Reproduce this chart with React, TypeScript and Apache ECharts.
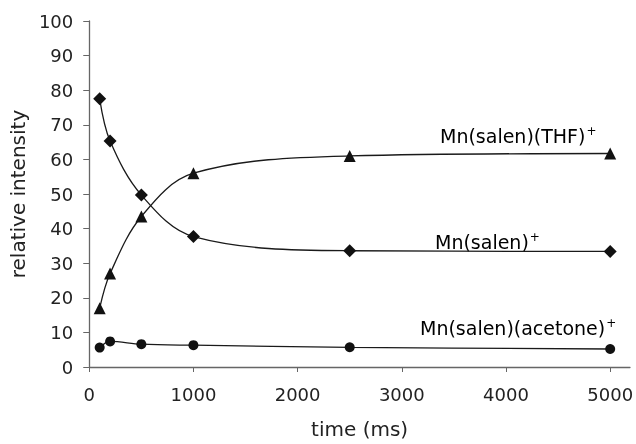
import React, { useEffect, useRef } from "react";
import * as echarts from "echarts";

const times = [100, 200, 500, 1000, 2500, 5000];
const salen = [77.5, 65.3, 49.7, 37.7, 33.6, 33.4];
const thf = [17.0, 27.0, 43.5, 56.0, 61.0, 61.7];
const acetone = [5.6, 7.4, 6.6, 6.3, 5.7, 5.2];
const xTicks = [0, 1000, 2000, 3000, 4000, 5000];
const seriesLabels = ["Mn(salen)(THF)", "Mn(salen)", "Mn(salen)(acetone)"];

const FONT = "DejaVu Sans";
const FS = 18;
const FS_LABEL = 19;
const FS_TITLE = 20;

export default function App() {
  const ref = useRef<HTMLDivElement>(null);
  useEffect(() => {
    if (!ref.current) return;
    const chart = echarts.init(ref.current, undefined, { renderer: "svg" });
    const mk = (vals: number[]) => times.map((t, i) => [t, vals[i]]);
    const lineStyle = { color: "#1a1a1a", width: 1.3 };
    const itemStyle = { color: "#111" };
    const rich = {
      m: { fontFamily: FONT, fontSize: FS_LABEL, color: "#222" },
      s: { fontFamily: FONT, fontSize: 12, color: "#222", verticalAlign: "top", padding: [0, 0, 10, 1] },
    };
    const lab = (txt: string, x: number, y: number) => ({
      type: "text",
      x,
      y,
      style: {
        text: `{m|${txt}}{s|+}`,
        rich,
        align: "left",
        verticalAlign: "bottom",
      },
    });
    chart.setOption({
      animation: false,
      grid: { left: 87, right: 4, top: 21, bottom: 74 },
      xAxis: {
        type: "value",
        min: 0,
        max: 5190,
        name: "time (ms)",
        nameLocation: "middle",
        nameGap: 52,
        nameTextStyle: { fontFamily: FONT, fontSize: FS_TITLE, color: "#222" },
        splitLine: { show: false },
        axisLine: { lineStyle: { color: "#666", width: 1.3 } },
        axisTick: { show: true, customValues: xTicks, length: 5, lineStyle: { color: "#666" } },
        axisLabel: {
          customValues: xTicks,
          margin: 18,
          fontFamily: FONT,
          fontSize: FS,
          color: "#222",
          formatter: (v: number) => String(v),
        },
      },
      yAxis: {
        type: "value",
        min: 0,
        max: 100,
        interval: 10,
        name: "relative intensity",
        nameLocation: "middle",
        nameGap: 58,
        nameTextStyle: { fontFamily: FONT, fontSize: FS_TITLE, color: "#222" },
        splitLine: { show: false },
        axisLine: { show: true, lineStyle: { color: "#666", width: 1.3 } },
        axisTick: { show: true, length: 6, lineStyle: { color: "#666" } },
        axisLabel: { margin: 16, fontFamily: FONT, fontSize: FS, color: "#222" },
      },
      series: [
        {
          type: "line",
          name: seriesLabels[1],
          data: mk(salen),
          smooth: 0.35,
          symbol: "diamond",
          symbolSize: 13,
          lineStyle,
          itemStyle,
        },
        {
          type: "line",
          name: seriesLabels[0],
          data: mk(thf),
          smooth: 0.35,
          symbol: "triangle",
          symbolSize: 12,
          lineStyle,
          itemStyle,
        },
        {
          type: "line",
          name: seriesLabels[2],
          data: mk(acetone),
          smooth: 0.35,
          symbol: "circle",
          symbolSize: 10,
          lineStyle,
          itemStyle,
        },
      ],
      graphic: [
        lab(seriesLabels[0], 440, 147),
        lab(seriesLabels[1], 435, 253),
        lab(seriesLabels[2], 420, 339),
      ],
    });
    return () => chart.dispose();
  }, []);
  return (
    <div
      ref={ref}
      style={{ position: "fixed", left: 0, top: 0, width: 636, height: 444 }}
    />
  );
}
